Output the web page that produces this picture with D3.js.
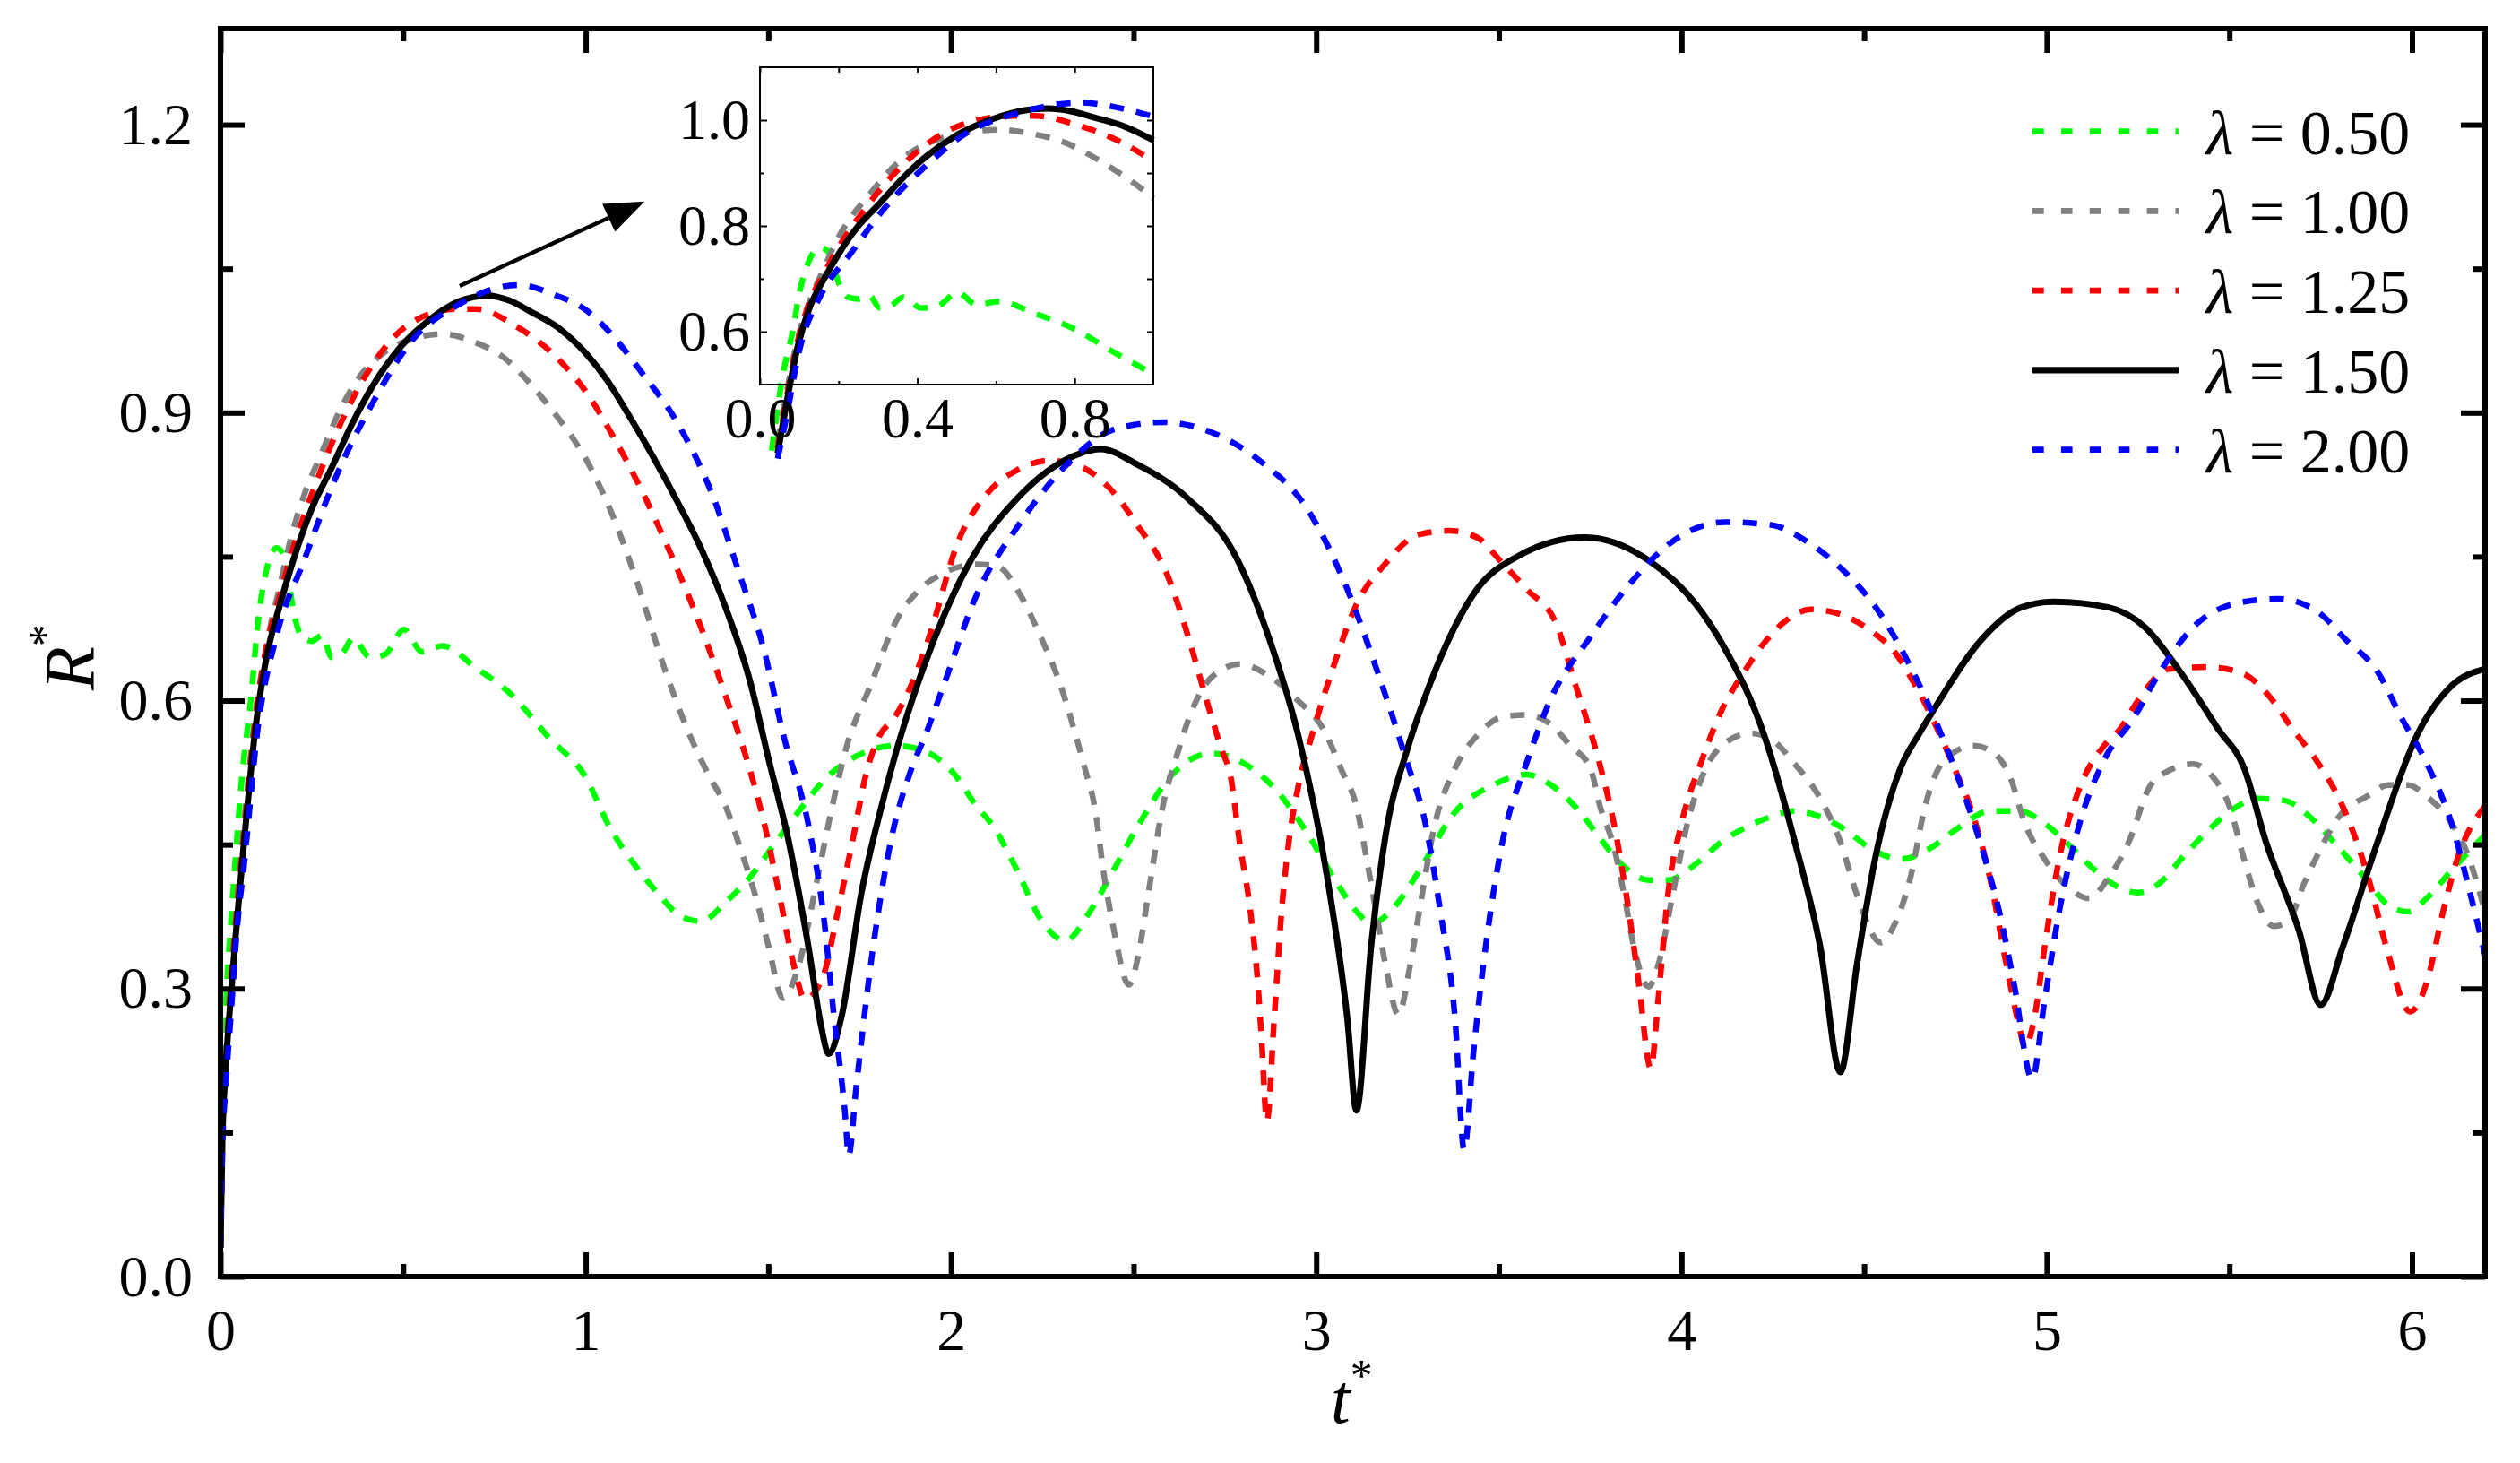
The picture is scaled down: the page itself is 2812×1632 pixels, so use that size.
<!DOCTYPE html>
<html lang="en">
<head>
<meta charset="utf-8">
<title>R* against t* for several lambda</title>
<script src="https://d3js.org/d3.v7.min.js"></script>
<style>
  body { margin: 0; background: #fff; }
  svg { display: block; }
  text { font-family: "Liberation Serif", "Times New Roman", serif; fill: #000; }
</style>
</head>
<body>
<script>
// ---- data ----
const lambdaLabels = ["0.50", "1.00", "1.25", "1.50", "2.00"];
const lineColors = ["#00ff00", "#808080", "#ff0000", "#000000", "#0000ff"];
const xTicks = [0, 1, 2, 3, 4, 5, 6];
const xMinor = [0.5, 1.5, 2.5, 3.5, 4.5, 5.5];
const yTicks = [0, 0.3, 0.6, 0.9, 1.2];
const yMinor = [0.15, 0.45, 0.75, 1.05];
const insetXTicks = [0, 0.4, 0.8];
const insetXMinor = [0.2, 0.6];
const insetYTicks = [0.6, 0.8, 1.0];
const insetYMinor = [0.7, 0.9];

// [t*, R*]
const r050 = [[0,0.03],[0.005,0.16],[0.02,0.32],[0.03,0.375],[0.04,0.43],[0.059,0.521],[0.083,0.6],[0.102,0.679],[0.126,0.736],[0.154,0.759],[0.175,0.75],[0.201,0.691],[0.225,0.665],[0.25,0.662],[0.278,0.668],[0.305,0.645],[0.335,0.65],[0.363,0.665],[0.41,0.645],[0.45,0.648],[0.503,0.674],[0.551,0.651],[0.608,0.657],[0.7,0.634],[0.797,0.606],[0.9,0.561],[1.0,0.52],[1.063,0.47],[1.13,0.431],[1.196,0.4],[1.262,0.375],[1.316,0.37],[1.383,0.39],[1.45,0.416],[1.516,0.45],[1.58,0.483],[1.66,0.52],[1.74,0.542],[1.85,0.553],[1.93,0.547],[2.01,0.523],[2.07,0.49],[2.114,0.47],[2.18,0.424],[2.246,0.372],[2.313,0.35],[2.38,0.38],[2.446,0.424],[2.513,0.47],[2.606,0.523],[2.712,0.545],[2.805,0.534],[2.885,0.509],[2.977,0.461],[3.058,0.409],[3.111,0.38],[3.152,0.368],[3.218,0.387],[3.284,0.424],[3.378,0.483],[3.484,0.512],[3.576,0.523],[3.643,0.512],[3.724,0.483],[3.776,0.457],[3.843,0.427],[3.91,0.413],[3.963,0.413],[4.043,0.431],[4.11,0.453],[4.177,0.468],[4.245,0.479],[4.31,0.485],[4.38,0.479],[4.45,0.465],[4.517,0.446],[4.6,0.435],[4.68,0.446],[4.76,0.468],[4.845,0.485],[4.926,0.485],[4.994,0.472],[5.06,0.45],[5.13,0.424],[5.2,0.405],[5.25,0.4],[5.306,0.409],[5.375,0.438],[5.443,0.465],[5.51,0.487],[5.58,0.498],[5.65,0.496],[5.72,0.479],[5.785,0.453],[5.87,0.416],[5.935,0.387],[5.99,0.38],[6.04,0.394],[6.11,0.424],[6.2,0.46]];

const r100 = [[0,0.03],[0.005,0.15],[0.015,0.23],[0.03,0.32],[0.045,0.39],[0.064,0.47],[0.097,0.59],[0.13,0.665],[0.163,0.72],[0.192,0.768],[0.23,0.815],[0.277,0.858],[0.324,0.9],[0.38,0.937],[0.446,0.962],[0.52,0.976],[0.607,0.982],[0.692,0.974],[0.777,0.957],[0.853,0.928],[0.909,0.902],[0.96,0.876],[1.0,0.852],[1.04,0.822],[1.08,0.787],[1.14,0.724],[1.21,0.64],[1.276,0.572],[1.34,0.52],[1.383,0.49],[1.42,0.45],[1.462,0.4],[1.5,0.345],[1.54,0.29],[1.58,0.32],[1.635,0.416],[1.675,0.49],[1.715,0.553],[1.78,0.616],[1.85,0.683],[1.915,0.716],[1.98,0.733],[2.07,0.742],[2.127,0.74],[2.19,0.71],[2.246,0.666],[2.3,0.616],[2.34,0.566],[2.366,0.53],[2.393,0.49],[2.42,0.416],[2.446,0.361],[2.487,0.304],[2.513,0.335],[2.54,0.398],[2.58,0.49],[2.62,0.545],[2.66,0.59],[2.71,0.623],[2.79,0.638],[2.87,0.626],[2.95,0.6],[3.02,0.57],[3.07,0.527],[3.11,0.49],[3.138,0.435],[3.164,0.38],[3.19,0.324],[3.225,0.273],[3.257,0.324],[3.285,0.387],[3.324,0.47],[3.377,0.527],[3.444,0.565],[3.51,0.583],[3.576,0.585],[3.64,0.576],[3.696,0.553],[3.75,0.53],[3.777,0.49],[3.816,0.446],[3.843,0.398],[3.87,0.343],[3.91,0.302],[3.936,0.324],[3.976,0.398],[4.016,0.472],[4.056,0.52],[4.11,0.553],[4.19,0.566],[4.245,0.56],[4.31,0.534],[4.38,0.498],[4.435,0.453],[4.48,0.398],[4.545,0.348],[4.585,0.368],[4.627,0.416],[4.667,0.49],[4.72,0.538],[4.8,0.553],[4.857,0.545],[4.9,0.52],[4.94,0.472],[4.994,0.435],[5.06,0.405],[5.116,0.394],[5.17,0.416],[5.225,0.453],[5.28,0.509],[5.334,0.527],[5.4,0.534],[5.456,0.52],[5.5,0.49],[5.54,0.435],[5.58,0.387],[5.623,0.365],[5.664,0.372],[5.704,0.409],[5.745,0.442],[5.8,0.479],[5.88,0.501],[5.935,0.512],[5.99,0.512],[6.04,0.5],[6.096,0.479],[6.15,0.442],[6.2,0.38]];

const r125 = [[0,0.03],[0.005,0.14],[0.015,0.22],[0.03,0.31],[0.045,0.38],[0.064,0.46],[0.097,0.585],[0.126,0.655],[0.163,0.71],[0.2,0.76],[0.25,0.815],[0.343,0.9],[0.418,0.951],[0.512,0.991],[0.645,1.008],[0.7,1.008],[0.805,0.991],[0.919,0.958],[1.0,0.922],[1.077,0.874],[1.157,0.816],[1.236,0.75],[1.316,0.676],[1.383,0.605],[1.436,0.545],[1.49,0.47],[1.53,0.398],[1.57,0.324],[1.6,0.289],[1.65,0.313],[1.69,0.38],[1.73,0.453],[1.77,0.527],[1.8,0.56],[1.85,0.585],[1.89,0.615],[1.94,0.666],[2.02,0.766],[2.1,0.816],[2.18,0.84],[2.27,0.85],[2.34,0.846],[2.43,0.823],[2.51,0.783],[2.59,0.733],[2.65,0.666],[2.7,0.6],[2.74,0.55],[2.766,0.52],[2.79,0.453],[2.82,0.38],[2.84,0.306],[2.85,0.25],[2.865,0.162],[2.885,0.269],[2.905,0.38],[2.925,0.453],[2.95,0.509],[2.99,0.566],[3.045,0.633],[3.11,0.7],[3.19,0.743],[3.28,0.773],[3.364,0.777],[3.44,0.77],[3.51,0.743],[3.576,0.716],[3.657,0.68],[3.71,0.616],[3.776,0.534],[3.816,0.47],[3.856,0.38],[3.883,0.306],[3.916,0.217],[3.936,0.287],[3.963,0.398],[4.0,0.472],[4.056,0.538],[4.11,0.59],[4.165,0.626],[4.22,0.657],[4.285,0.683],[4.354,0.695],[4.435,0.69],[4.517,0.673],[4.585,0.65],[4.64,0.616],[4.694,0.576],[4.75,0.527],[4.79,0.49],[4.844,0.416],[4.89,0.324],[4.926,0.258],[4.94,0.239],[4.966,0.269],[4.994,0.343],[5.034,0.435],[5.09,0.509],[5.157,0.553],[5.2,0.57],[5.25,0.6],[5.334,0.633],[5.443,0.635],[5.538,0.628],[5.606,0.606],[5.674,0.57],[5.743,0.535],[5.81,0.49],[5.88,0.416],[5.93,0.343],[5.995,0.276],[6.04,0.306],[6.085,0.38],[6.124,0.435],[6.2,0.49]];

const r150 = [[0,0.03],[0.005,0.14],[0.015,0.22],[0.03,0.3],[0.045,0.37],[0.064,0.45],[0.097,0.575],[0.126,0.645],[0.163,0.7],[0.2,0.747],[0.248,0.798],[0.305,0.843],[0.36,0.888],[0.417,0.928],[0.492,0.968],[0.57,0.996],[0.654,1.016],[0.731,1.022],[0.79,1.017],[0.85,1.005],[0.93,0.987],[1.0,0.962],[1.06,0.933],[1.117,0.898],[1.18,0.857],[1.25,0.808],[1.32,0.755],[1.38,0.7],[1.45,0.62],[1.5,0.54],[1.556,0.453],[1.61,0.343],[1.645,0.26],[1.665,0.232],[1.7,0.27],[1.755,0.4],[1.81,0.49],[1.86,0.56],[1.94,0.65],[2.06,0.75],[2.18,0.81],[2.31,0.85],[2.41,0.862],[2.51,0.846],[2.65,0.81],[2.78,0.75],[2.87,0.666],[2.95,0.565],[3.03,0.416],[3.085,0.269],[3.11,0.173],[3.15,0.343],[3.19,0.46],[3.25,0.55],[3.31,0.616],[3.44,0.716],[3.55,0.75],[3.735,0.77],[3.91,0.746],[4.04,0.7],[4.11,0.66],[4.23,0.56],[4.31,0.453],[4.38,0.343],[4.435,0.213],[4.48,0.324],[4.53,0.435],[4.6,0.53],[4.65,0.565],[4.69,0.59],[4.82,0.663],[4.93,0.697],[5.02,0.703],[5.17,0.697],[5.27,0.676],[5.36,0.633],[5.47,0.57],[5.54,0.53],[5.6,0.453],[5.69,0.361],[5.75,0.283],[5.81,0.343],[5.906,0.453],[6.015,0.565],[6.11,0.616],[6.2,0.633]];

const r200 = [[0,0.03],[0.005,0.13],[0.015,0.2],[0.03,0.28],[0.045,0.36],[0.065,0.43],[0.102,0.57],[0.154,0.668],[0.23,0.747],[0.315,0.832],[0.418,0.911],[0.522,0.974],[0.654,1.013],[0.815,1.033],[0.92,1.022],[1.0,1.007],[1.05,0.99],[1.157,0.94],[1.25,0.89],[1.345,0.816],[1.42,0.733],[1.49,0.65],[1.54,0.566],[1.61,0.47],[1.65,0.38],[1.68,0.27],[1.71,0.17],[1.72,0.126],[1.74,0.195],[1.78,0.324],[1.835,0.453],[1.89,0.527],[1.93,0.564],[1.98,0.616],[2.07,0.71],[2.18,0.78],[2.31,0.843],[2.45,0.883],[2.58,0.89],[2.71,0.88],[2.845,0.85],[2.98,0.797],[3.085,0.716],[3.165,0.633],[3.245,0.54],[3.3,0.47],[3.34,0.38],[3.38,0.269],[3.405,0.132],[3.43,0.232],[3.47,0.361],[3.51,0.453],[3.576,0.535],[3.64,0.6],[3.75,0.666],[3.855,0.72],[3.976,0.766],[4.12,0.786],[4.245,0.783],[4.354,0.763],[4.45,0.733],[4.545,0.69],[4.63,0.633],[4.71,0.566],[4.75,0.527],[4.817,0.453],[4.87,0.38],[4.91,0.306],[4.96,0.206],[4.994,0.287],[5.034,0.38],[5.09,0.472],[5.157,0.538],[5.24,0.583],[5.31,0.63],[5.4,0.676],[5.54,0.703],[5.634,0.706],[5.74,0.693],[5.82,0.663],[5.906,0.63],[5.97,0.583],[6.04,0.535],[6.11,0.47],[6.16,0.398],[6.2,0.335]];

const seriesData = [r050, r100, r125, r150, r200];

// ---- layout ----
const svgW = 2812, svgH = 1632;
const plot = { left: 246, right: 2773, top: 32, bottom: 1424 };
const insetBox = { left: 848, right: 1287, top: 75, bottom: 429 };
const mainDash = "16,14";

const svg = d3.select("body").append("svg")
    .attr("width", svgW)
    .attr("height", svgH);

const x = d3.scaleLinear().domain([0, 6.2]).range([plot.left, plot.right]);
const y = d3.scaleLinear().domain([0, 1.3]).range([plot.bottom, plot.top]);

const xi = d3.scaleLinear().domain([0, 1]).range([insetBox.left, insetBox.right]);
const yi = d3.scaleLinear().domain([0.5, 1.1]).range([insetBox.bottom, insetBox.top]);

svg.append("clipPath").attr("id", "plotclip")
  .append("rect")
    .attr("x", plot.left).attr("y", plot.top)
    .attr("width", plot.right - plot.left)
    .attr("height", plot.bottom - plot.top);

// ---- main curves ----
const line = d3.line()
    .x(d => x(d[0]))
    .y(d => y(d[1]))
    .curve(d3.curveMonotoneX);

const curves = svg.append("g").attr("clip-path", "url(#plotclip)");
seriesData.forEach((s, i) => {
    curves.append("path")
        .datum(s)
        .attr("d", line)
        .attr("fill", "none")
        .attr("stroke", lineColors[i])
        .attr("stroke-width", i === 3 ? 7 : 6.5)
        .attr("stroke-dasharray", i === 3 ? null : mainDash);
});

// ---- main axes (ticks point inward) ----
function styleAxis(g, fontSize) {
    g.select(".domain").remove();
    g.attr("font-family", "Liberation Serif, Times New Roman, serif")
     .attr("font-size", fontSize);
}

svg.append("g")
    .attr("transform", "translate(0," + plot.bottom + ")")
    .call(d3.axisBottom(x).tickValues(xTicks).tickSize(-27).tickPadding(35).tickFormat(d3.format("d")))
    .call(g => styleAxis(g, 66))
    .selectAll("line").attr("stroke-width", 6);
svg.append("g")
    .attr("transform", "translate(0," + plot.bottom + ")")
    .call(d3.axisBottom(x).tickValues(xMinor).tickSize(-14).tickFormat(""))
    .call(g => styleAxis(g, 66))
    .selectAll("line").attr("stroke-width", 6);
svg.append("g")
    .attr("transform", "translate(0," + plot.top + ")")
    .call(d3.axisTop(x).tickValues(xTicks).tickSize(-27).tickFormat(""))
    .call(g => styleAxis(g, 66))
    .selectAll("line").attr("stroke-width", 6);
svg.append("g")
    .attr("transform", "translate(0," + plot.top + ")")
    .call(d3.axisTop(x).tickValues(xMinor).tickSize(-14).tickFormat(""))
    .call(g => styleAxis(g, 66))
    .selectAll("line").attr("stroke-width", 6);

svg.append("g")
    .attr("transform", "translate(" + plot.left + ",0)")
    .call(d3.axisLeft(y).tickValues(yTicks).tickSize(-27).tickPadding(31).tickFormat(d3.format(".1f")))
    .call(g => styleAxis(g, 66))
    .selectAll("line").attr("stroke-width", 6);
svg.append("g")
    .attr("transform", "translate(" + plot.left + ",0)")
    .call(d3.axisLeft(y).tickValues(yMinor).tickSize(-14).tickFormat(""))
    .call(g => styleAxis(g, 66))
    .selectAll("line").attr("stroke-width", 6);
svg.append("g")
    .attr("transform", "translate(" + plot.right + ",0)")
    .call(d3.axisRight(y).tickValues(yTicks).tickSize(-27).tickFormat(""))
    .call(g => styleAxis(g, 66))
    .selectAll("line").attr("stroke-width", 6);
svg.append("g")
    .attr("transform", "translate(" + plot.right + ",0)")
    .call(d3.axisRight(y).tickValues(yMinor).tickSize(-14).tickFormat(""))
    .call(g => styleAxis(g, 66))
    .selectAll("line").attr("stroke-width", 6);

// frame
svg.append("rect")
    .attr("x", plot.left).attr("y", plot.top)
    .attr("width", plot.right - plot.left)
    .attr("height", plot.bottom - plot.top)
    .attr("fill", "none")
    .attr("stroke", "#000")
    .attr("stroke-width", 6);

// axis titles
const xt = svg.append("text")
    .attr("x", 1485).attr("y", 1587)
    .style("font-size", "78px");
xt.append("tspan").style("font-style", "italic").text("t");
xt.append("tspan").attr("dy", -36).style("font-size", "50px").text("*");

const yt = svg.append("text")
    .attr("transform", "translate(105,770) rotate(-90)")
    .style("font-size", "80px");
yt.append("tspan").style("font-style", "italic").text("R");
yt.append("tspan").attr("dy", -38).style("font-size", "50px").text("*");

// ---- legend ----
const legend = svg.append("g");
lambdaLabels.forEach((lab, i) => {
    const ly = 146.7 + i * 88.75;
    legend.append("line")
        .attr("x1", 2268).attr("x2", 2431)
        .attr("y1", ly).attr("y2", ly)
        .attr("stroke", lineColors[i])
        .attr("stroke-width", i === 3 ? 7.3 : 6.7)
        .attr("stroke-dasharray", i === 3 ? null : "12.7,19.2");
    const t = legend.append("text")
        .attr("x", 2462).attr("y", ly + 25)
        .style("font-size", "70px");
    t.append("tspan").style("font-style", "italic").text("\u03bb");
    t.append("tspan").text(" = " + lab);
});

// ---- arrow pointing to inset ----
const arrowFrom = [0.655, 1.032], arrowTo = [1.161, 1.12];
const ax0 = x(arrowFrom[0]), ay0 = y(arrowFrom[1]);
const ax1 = x(arrowTo[0]), ay1 = y(arrowTo[1]);
const ang = Math.atan2(ay1 - ay0, ax1 - ax0);
const headL = 44, headW = 17;
const bx = ax1 - headL * Math.cos(ang), by = ay1 - headL * Math.sin(ang);
svg.append("line")
    .attr("x1", ax0).attr("y1", ay0)
    .attr("x2", bx).attr("y2", by)
    .attr("stroke", "#000").attr("stroke-width", 4.5);
svg.append("path")
    .attr("d", d3.line()([
        [ax1, ay1],
        [bx + headW * Math.sin(ang), by - headW * Math.cos(ang)],
        [bx - headW * Math.sin(ang), by + headW * Math.cos(ang)]
    ]) + "Z")
    .attr("fill", "#000");

// ---- inset ----
const inset = svg.append("g");
const iline = d3.line()
    .x(d => xi(d[0]))
    .y(d => yi(d[1]))
    .curve(d3.curveMonotoneX);

seriesData.forEach((s, i) => {
    inset.append("path")
        .datum(s.filter(d => d[0] <= 1.0 && d[1] >= 0.36))
        .attr("d", iline)
        .attr("fill", "none")
        .attr("stroke", lineColors[i])
        .attr("stroke-width", i === 3 ? 7 : 6.5)
        .attr("stroke-dasharray", i === 3 ? null : mainDash);
});

inset.append("g")
    .attr("transform", "translate(0," + insetBox.bottom + ")")
    .call(d3.axisBottom(xi).tickValues(insetXTicks).tickSize(-7).tickPadding(14).tickFormat(d3.format(".1f")))
    .call(g => styleAxis(g, 64))
    .selectAll("line").attr("stroke-width", 2);
inset.append("g")
    .attr("transform", "translate(0," + insetBox.bottom + ")")
    .call(d3.axisBottom(xi).tickValues(insetXMinor).tickSize(-4).tickFormat(""))
    .call(g => styleAxis(g, 64))
    .selectAll("line").attr("stroke-width", 2);
inset.append("g")
    .attr("transform", "translate(0," + insetBox.top + ")")
    .call(d3.axisTop(xi).tickValues(insetXTicks.concat(insetXMinor)).tickSize(-6).tickFormat(""))
    .call(g => styleAxis(g, 64))
    .selectAll("line").attr("stroke-width", 2);
inset.append("g")
    .attr("transform", "translate(" + insetBox.left + ",0)")
    .call(d3.axisLeft(yi).tickValues(insetYTicks).tickSize(-8).tickPadding(11).tickFormat(d3.format(".1f")))
    .call(g => styleAxis(g, 64))
    .selectAll("line").attr("stroke-width", 2);
inset.append("g")
    .attr("transform", "translate(" + insetBox.left + ",0)")
    .call(d3.axisLeft(yi).tickValues(insetYMinor).tickSize(-4).tickFormat(""))
    .call(g => styleAxis(g, 64))
    .selectAll("line").attr("stroke-width", 2);
inset.append("g")
    .attr("transform", "translate(" + insetBox.right + ",0)")
    .call(d3.axisRight(yi).tickValues(insetYTicks.concat(insetYMinor)).tickSize(-7).tickFormat(""))
    .call(g => styleAxis(g, 64))
    .selectAll("line").attr("stroke-width", 2);

inset.append("rect")
    .attr("x", insetBox.left).attr("y", insetBox.top)
    .attr("width", insetBox.right - insetBox.left)
    .attr("height", insetBox.bottom - insetBox.top)
    .attr("fill", "none")
    .attr("stroke", "#000")
    .attr("stroke-width", 2);
</script>
</body>
</html>
